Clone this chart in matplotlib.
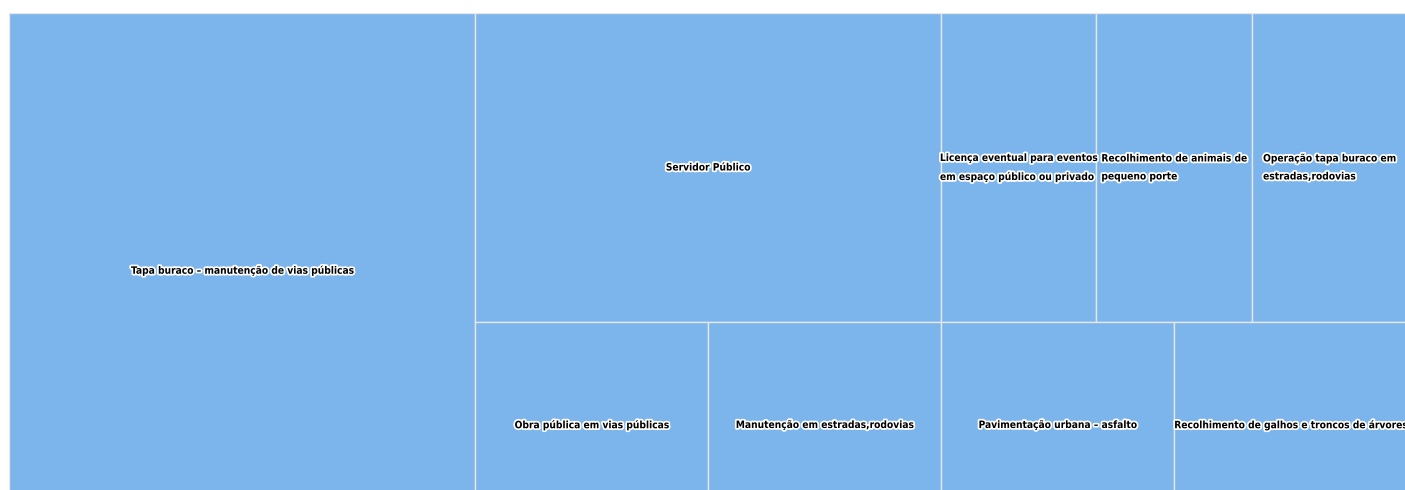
import matplotlib
matplotlib.use("Agg")
import matplotlib.pyplot as plt
import matplotlib.patheffects as pe
import matplotlib.font_manager as fm
from matplotlib.patches import Rectangle

# treemap data (Highcharts style, squarified with alternating direction)
labels = [
    "Tapa buraco – manutenção de vias públicas",
    "Servidor Público",
    "Licença eventual para eventos\nem espaço público ou privado",
    "Recolhimento de animais de\npequeno porte",
    "Operação tapa buraco em\nestradas,rodovias",
    "Obra pública em vias públicas",
    "Manutenção em estradas,rodovias",
    "Pavimentação urbana – asfalto",
    "Recolhimento de galhos e troncos de árvores",
]
values = [10, 6, 2, 2, 2, 2, 2, 2, 2]

BOX_COLOR = "#7cb5ec"
BORDER_COLOR = "#e6e6e6"

# plot area in pixels (the chart is cut off on the right and at the bottom)
FIG_W, FIG_H = 1405, 490
AREA_W, AREA_H = 1398, 515
LEFT, TOP = 9, 13
LABEL_WIDTH_PX = 222  # width of the first label in the reference


def pick_narrow_font():
    """Look for the narrowest bold sans font that is installed"""
    families = ["Noto Sans", "Roboto", "Open Sans", "Liberation Sans", "DejaVu Sans", "Lato"]
    best = None
    for f in fm.fontManager.ttflist:
        fname = f.fname.lower().replace("-", "").replace("_", "")
        if f.style != "normal" or f.weight not in (700, "bold"):
            continue
        if not any(f.name.startswith(fam) for fam in families):
            continue
        if "ultracondensed" in fname:
            rank = 0
        elif "extracondensed" in fname:
            rank = 1
        elif "semicondensed" in fname:
            rank = 3
        elif "condensed" in fname or "narrow" in fname:
            rank = 2
        else:
            continue
        if best is None or rank < best[0]:
            best = (rank, f.fname)
    if best:
        return fm.FontProperties(fname=best[1])
    return fm.FontProperties(family="DejaVu Sans", weight="bold")


def worst_ratio(group, w, h, vertical):
    side = h if vertical else w
    thick = sum(group) / side
    worst = 0
    for a in group:
        length = a / thick
        worst = max(worst, thick / length, length / thick)
    return worst


def squarified(vals, x, y, w, h, vertical=True):
    """Low aspect ratio layout, direction flips after every group"""
    scale = w * h / float(sum(vals))
    areas = [v * scale for v in vals]
    rects = []
    i = 0
    while i < len(areas):
        group = [areas[i]]
        best = worst_ratio(group, w, h, vertical)
        j = i + 1
        while j < len(areas):
            r = worst_ratio(group + [areas[j]], w, h, vertical)
            if r > best:
                break
            group.append(areas[j])
            best = r
            j += 1
        s = sum(group)
        if vertical:
            gw = s / h
            yy = y
            for a in group:
                gh = a / gw
                rects.append((x, yy, gw, gh))
                yy += gh
            x += gw
            w -= gw
        else:
            gh = s / w
            xx = x
            for a in group:
                cw = a / gh
                rects.append((xx, y, cw, gh))
                xx += cw
            y += gh
            h -= gh
        vertical = not vertical
        i = j
    return rects


fig = plt.figure(figsize=(FIG_W / 100.0, FIG_H / 100.0), dpi=100)
ax = fig.add_axes([LEFT / FIG_W, (FIG_H - TOP - AREA_H) / FIG_H,
                   AREA_W / FIG_W, AREA_H / FIG_H])
ax.set_xlim(0, AREA_W)
ax.set_ylim(AREA_H, 0)
ax.axis("off")

font = pick_narrow_font()

# size the font so the first label is as wide as in the reference
renderer = fig.canvas.get_renderer()
probe = ax.text(0, 0, labels[0], fontproperties=font, fontsize=10)
probe_w = probe.get_window_extent(renderer).width
probe.remove()
font_size = 10 * LABEL_WIDTH_PX / probe_w

rects = squarified(values, 0, 0, AREA_W, AREA_H)
outline = [pe.withStroke(linewidth=2.5, foreground="white")]

for (x, y, w, h), label in zip(rects, labels):
    ax.add_patch(Rectangle((x, y), w, h, facecolor=BOX_COLOR,
                           edgecolor=BORDER_COLOR, linewidth=1))
    ax.text(x + w / 2, y + h / 2, label, ha="center", va="center",
            multialignment="left", linespacing=2.0,
            fontproperties=font, fontsize=font_size, color="black",
            path_effects=outline, clip_on=False)

fig.savefig("out.png", dpi=100)
